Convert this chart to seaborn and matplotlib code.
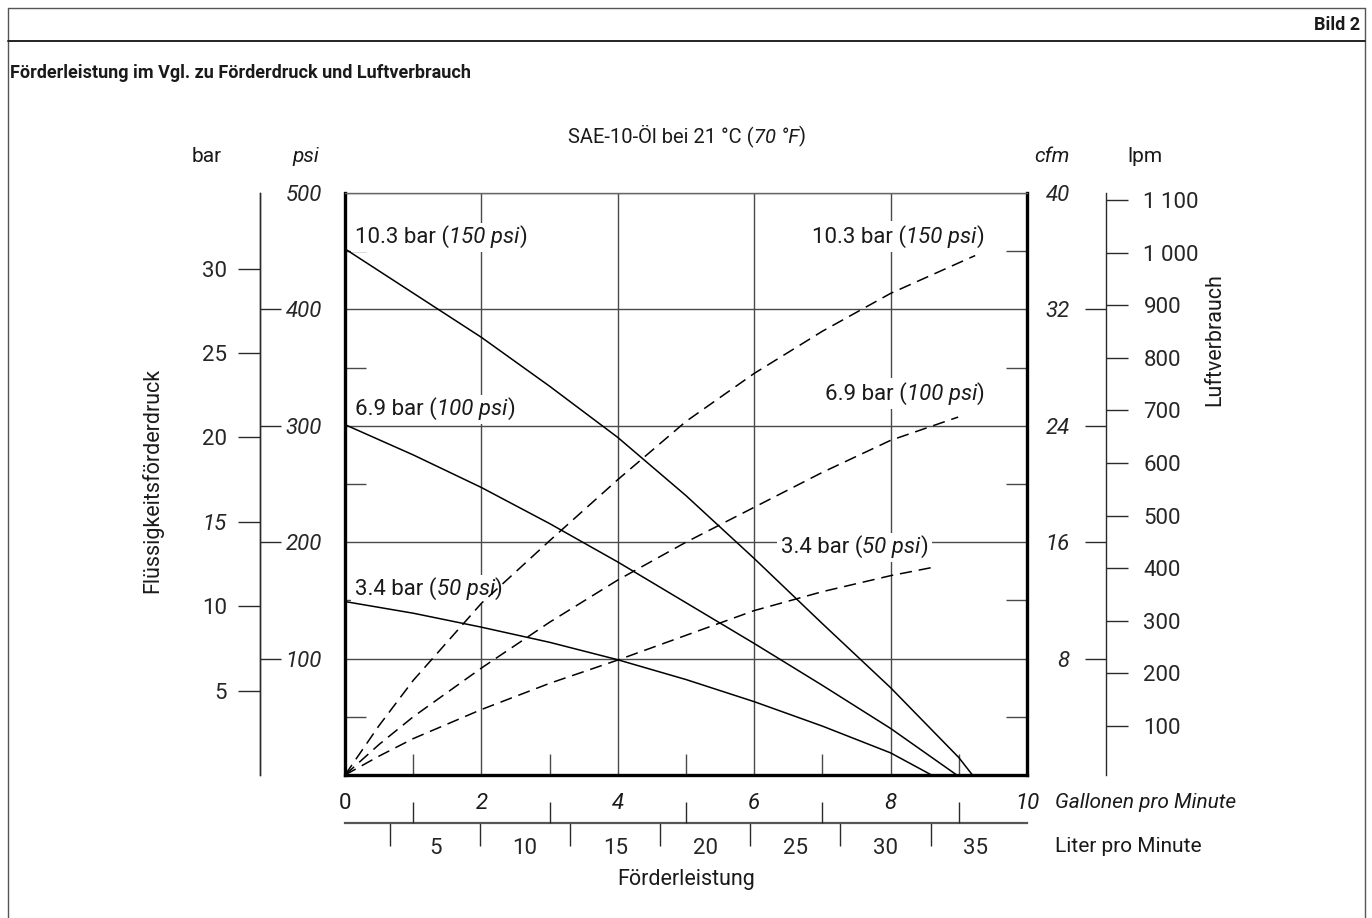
import matplotlib
matplotlib.use("Agg")
import matplotlib.pyplot as plt
from matplotlib.lines import Line2D
import seaborn as sns

# Förderleistung (gpm) gegen Förderdruck (psi), durchgezogene Kurven
gpm_150 = [0, 1, 2, 3, 4, 5, 6, 7, 8, 9, 9.2]
psi_150 = [452, 414, 376, 334, 290, 240, 186, 130, 75, 15, 0]
gpm_100 = [0, 1, 2, 3, 4, 5, 6, 7, 8, 8.97]
psi_100 = [301, 275, 247, 216, 183, 148, 113, 77, 40, 0]
gpm_50 = [0, 1, 2, 3, 4, 5, 6, 7, 8, 8.6]
psi_50 = [149, 139, 127, 114, 99, 82, 63, 42, 19, 0]

# Luftverbrauch (cfm), gestrichelte Kurven
gpm_air_150 = [0, 0.5, 1, 2, 3, 4, 5, 6, 7, 8, 9, 9.24]
cfm_150 = [0, 3.4, 6.5, 11.8, 16.1, 20.3, 24.3, 27.6, 30.5, 33.1, 35.2, 35.7]
gpm_air_100 = [0, 0.5, 1, 2, 3, 4, 5, 6, 7, 8, 8.99]
cfm_100 = [0, 2.1, 4.0, 7.35, 10.5, 13.4, 16.0, 18.4, 20.8, 23.0, 24.6]
gpm_air_50 = [0, 0.5, 1, 2, 3, 4, 5, 6, 7, 8, 8.65]
cfm_50 = [0, 1.3, 2.5, 4.5, 6.3, 7.9, 9.6, 11.3, 12.6, 13.7, 14.3]

# Beschriftungen der Kurven (Luftdruck)
air_bar = ["10.3", "6.9", "3.4"]
air_psi = ["150", "100", "50"]

# Achsen
gpm_ticks = [0, 2, 4, 6, 8, 10]
gpm_minor = [1, 3, 5, 7, 9]
psi_ticks = [100, 200, 300, 400, 500]
bar_ticks = [5, 10, 15, 20, 25, 30]
cfm_ticks = [8, 16, 24, 32, 40]
lpm_air_ticks = [100, 200, 300, 400, 500, 600, 700, 800, 900, 1000, 1100]
lpm_air_labels = ["100", "200", "300", "400", "500", "600", "700", "800",
                  "900", "1 000", "1 100"]
lpm_flow_ticks = [5, 10, 15, 20, 25, 30, 35]
lpm_flow_minor = [2.5, 7.5, 12.5, 17.5, 22.5, 27.5, 32.5]

PSI_PER_BAR = 14.5038
LPM_PER_GPM = 3.78541

W, H = 1372, 918
sns.set_theme(style="white")
plt.rcParams["font.family"] = ["Roboto", "DejaVu Sans"]
plt.rcParams["text.color"] = "#1a1a1a"

fig = plt.figure(figsize=(W / 100, H / 100), dpi=100)
ax = fig.add_axes([345 / W, 1 - 775 / H, 682 / W, 582 / H])

# Nebenachsen zuerst anlegen (twinx/twiny verstellen sonst die Ticks)
ax_psi = ax.twinx()
ax_bar = ax.twinx()
ax_cfm = ax.twinx()
ax_lpm = ax.twinx()
ax_lpmx = ax.twiny()
ax_gpmx = ax.twiny()

TICK = "#2a2a2a"
GRID = "#4a4a4a"
FS = 16

# Hauptdiagramm
ax.set_xlim(0, 10)
ax.set_ylim(0, 500)
ax.set_xticks(gpm_ticks)
ax.set_xticklabels([str(v) for v in gpm_ticks])
for i, lab in enumerate(ax.get_xticklabels()):
    lab.set_fontstyle("normal" if i == 0 else "italic")
ax.set_yticks([0] + psi_ticks)
ax.set_xticks(gpm_minor, minor=True)
ax.set_yticks([50, 150, 250, 350, 450], minor=True)
ax.tick_params(which="major", length=0, labelleft=False, labelright=False,
               labelsize=FS, pad=13, labelcolor="#1a1a1a")
ax.tick_params(axis="x", which="minor", direction="in", length=15, width=1,
               color=GRID, bottom=True, top=False)
ax.tick_params(axis="y", which="minor", direction="in", length=15, width=1,
               color=GRID, left=True, right=True)
ax.grid(which="major", color=GRID, lw=1.0)
ax.set_axisbelow(True)
for s in ["left", "right", "bottom"]:
    ax.spines[s].set_linewidth(2.4)
    ax.spines[s].set_color("black")
ax.spines["top"].set_linewidth(1.0)
ax.spines["top"].set_color("#666666")

for gx, gy in [(gpm_150, psi_150), (gpm_100, psi_100), (gpm_50, psi_50)]:
    sns.lineplot(x=gx, y=gy, ax=ax, color="black", lw=1.1, zorder=3)
ax.set_xlabel("")
ax.set_ylabel("")


def hide_spines(a, keep=()):
    for s in ["left", "right", "top", "bottom"]:
        a.spines[s].set_visible(s in keep)


# psi-Skala (links, Beschriftung rechts vom Strich)
hide_spines(ax_psi, keep=("right",))
ax_psi.spines["right"].set_position(("axes", -0.1246))
ax_psi.spines["right"].set_color(TICK)
ax_psi.spines["right"].set_linewidth(1.0)
ax_psi.set_ylim(0, 500)
ax_psi.set_yticks(psi_ticks)
ax_psi.set_yticklabels([str(v) for v in psi_ticks], fontstyle="italic")
ax_psi.tick_params(axis="y", direction="out", length=15, width=1, color=TICK,
                   pad=3.5, labelsize=FS, right=True, left=False)
ax_psi.yaxis.get_major_ticks()[-1].tick2line.set_visible(False)

# bar-Skala
hide_spines(ax_bar, keep=("left",))
ax_bar.yaxis.tick_left()
ax_bar.spines["left"].set_position(("axes", -0.1246))
ax_bar.spines["left"].set_color(TICK)
ax_bar.spines["left"].set_linewidth(1.0)
ax_bar.set_ylim(0, 500 / PSI_PER_BAR)
ax_bar.set_yticks(bar_ticks)
ax_bar.set_yticklabels([str(v) for v in bar_ticks])
ax_bar.tick_params(axis="y", direction="out", length=16, width=1, color=TICK,
                   pad=8, labelsize=FS, left=True, right=False)
for v, lab in zip(bar_ticks, ax_bar.get_yticklabels()):
    if v == 15:
        lab.set_fontstyle("italic")

# cfm-Skala (rechts, Beschriftung links vom lpm-Strich)
hide_spines(ax_cfm)
ax_cfm.yaxis.tick_left()
ax_cfm.spines["left"].set_position(("axes", 1.1158))
ax_cfm.set_ylim(0, 40)
ax_cfm.set_yticks(cfm_ticks)
ax_cfm.set_yticklabels([str(v) for v in cfm_ticks], fontstyle="italic")
ax_cfm.tick_params(axis="y", direction="out", length=15, width=1, color=TICK,
                   pad=11, labelsize=FS, left=True, right=False)
ax_cfm.yaxis.get_major_ticks()[-1].tick1line.set_visible(False)

dash = (0, (8, 4.5))
for gx, cy in [(gpm_air_150, cfm_150), (gpm_air_100, cfm_100), (gpm_air_50, cfm_50)]:
    sns.lineplot(x=gx, y=cy, ax=ax_cfm, color="black", lw=1.1, linestyle=dash)
ax_cfm.set_xlabel("")
ax_cfm.set_ylabel("")

# lpm-Skala für Luftverbrauch
hide_spines(ax_lpm, keep=("right",))
ax_lpm.spines["right"].set_position(("axes", 1.1158))
ax_lpm.spines["right"].set_color(TICK)
ax_lpm.spines["right"].set_linewidth(1.0)
ax_lpm.set_ylim(6, 1114)
ax_lpm.set_yticks(lpm_air_ticks)
ax_lpm.set_yticklabels(lpm_air_labels)
ax_lpm.tick_params(axis="y", direction="out", length=16, width=1, color=TICK,
                   pad=11, labelsize=FS, right=True, left=False)

# Liter pro Minute unten
hide_spines(ax_lpmx, keep=("bottom",))
ax_lpmx.xaxis.tick_bottom()
ax_lpmx.spines["bottom"].set_position(("axes", -0.0825))
ax_lpmx.spines["bottom"].set_color("#555555")
ax_lpmx.spines["bottom"].set_linewidth(1.6)
ax_lpmx.set_xlim(0, 10 * LPM_PER_GPM)
ax_lpmx.set_xticks(lpm_flow_minor)
ax_lpmx.set_xticklabels([])
ax_lpmx.set_xticks(lpm_flow_ticks, minor=True)
ax_lpmx.set_xticklabels([str(v) for v in lpm_flow_ticks], minor=True)
ax_lpmx.tick_params(axis="x", which="major", direction="out", length=16.5,
                    width=1, color=TICK, bottom=True, top=False)
ax_lpmx.tick_params(axis="x", which="minor", length=0, pad=11, labelsize=FS,
                    bottom=True, top=False)

# Gallonen-Zwischenstriche unten
hide_spines(ax_gpmx)
ax_gpmx.xaxis.tick_bottom()
ax_gpmx.spines["bottom"].set_position(("axes", -0.0825))
ax_gpmx.set_xlim(0, 10)
ax_gpmx.set_xticks(gpm_minor)
ax_gpmx.set_xticklabels([])
ax_gpmx.tick_params(axis="x", direction="in", length=15, width=1, color=TICK,
                    bottom=True, top=False)


def chain(x, y, parts, ha, tr, kw):
    if ha == "left":
        t = ax.text(x, y, parts[0][0], style=parts[0][1], ha="left",
                    va="baseline", transform=tr, **kw)
        for s, st in parts[1:]:
            t = ax.annotate(s, xy=(1, 0), xycoords=t, ha="left", va="bottom",
                            style=st, **kw)
    else:
        t = ax.text(x, y, parts[-1][0], style=parts[-1][1], ha="right",
                    va="baseline", transform=tr, **kw)
        for s, st in reversed(parts[:-1]):
            t = ax.annotate(s, xy=(0, 0), xycoords=t, ha="right", va="bottom",
                            style=st, **kw)


def mixed(x, y, parts, ha="left", transform=None, box=False, size=FS):
    tr = ax.transData if transform is None else transform
    if box:
        # weisser Hintergrund als eigene Ebene unter dem Text
        chain(x, y, parts, ha, tr, dict(
            fontsize=size, zorder=2.55, color=(1, 1, 1, 0),
            bbox=dict(boxstyle="square,pad=0.18", fc="white", ec="none")))
    chain(x, y, parts, ha, tr, dict(fontsize=size, zorder=2.7))


def air_parts(i):
    return [(air_bar[i] + " bar (", "normal"), (air_psi[i] + " psi", "italic"),
            (")", "normal")]


# Kurvenbeschriftung links (Förderdruck) und rechts (Luftverbrauch)
for i, yb in enumerate([457, 309, 155]):
    mixed(0.15, yb, air_parts(i), ha="left", box=True)
for i, (xr, yb) in enumerate([(9.37, 457), (9.38, 322), (8.55, 191)]):
    mixed(xr, yb, air_parts(i), ha="right", box=True)

# Titel und Achsbeschriftungen
ff = fig.transFigure
mixed(568 / W, 1 - 142 / H, [("SAE-10-Öl bei 21 °C (", "normal"),
                             ("70 °F", "italic"), (")", "normal")],
      transform=ff, size=14.5)
fig.text(207 / W, 1 - 157 / H, "bar", ha="center", va="center", fontsize=15)
fig.text(306 / W, 1 - 157 / H, "psi", ha="center", va="center", fontsize=15,
         style="italic")
fig.text(1052 / W, 1 - 157 / H, "cfm", ha="center", va="center", fontsize=15,
         style="italic")
fig.text(1145 / W, 1 - 157 / H, "lpm", ha="center", va="center", fontsize=15)
fig.text(152 / W, 1 - 480 / H, "Flüssigkeitsförderdruck", rotation=90,
         ha="center", va="center", fontsize=15.5)
fig.text(1215 / W, 1 - 340 / H, "Luftverbrauch", rotation=90, ha="center",
         va="center", fontsize=15.5)
fig.text(1055 / W, 1 - 802 / H, "Gallonen pro Minute", ha="left", va="center",
         fontsize=15, style="italic")
fig.text(1055 / W, 1 - 846 / H, "Liter pro Minute", ha="left", va="center",
         fontsize=15)
fig.text(686 / W, 1 - 880 / H, "Förderleistung", ha="center", va="center",
         fontsize=15.5)

# Kopfzeile und Rahmen
fig.text(1360 / W, 1 - 25 / H, "Bild 2", ha="right", va="center",
         fontsize=13, fontweight="bold")
fig.text(10 / W, 1 - 73 / H,
         "Förderleistung im Vgl. zu Förderdruck und Luftverbrauch",
         ha="left", va="center", fontsize=13, fontweight="bold")
fig.add_artist(Line2D([8 / W, 1365 / W], [1 - 8 / H, 1 - 8 / H],
                      transform=ff, color="#555555", lw=1.0))
fig.add_artist(Line2D([8 / W, 8 / W], [0, 1 - 8 / H], transform=ff,
                      color="#555555", lw=1.0))
fig.add_artist(Line2D([1365 / W, 1365 / W], [0, 1 - 8 / H], transform=ff,
                      color="#555555", lw=1.0))
fig.add_artist(Line2D([8 / W, 1365 / W], [1 - 41 / H, 1 - 41 / H],
                      transform=ff, color="#222222", lw=1.4))

fig.savefig("out.png", dpi=100)
